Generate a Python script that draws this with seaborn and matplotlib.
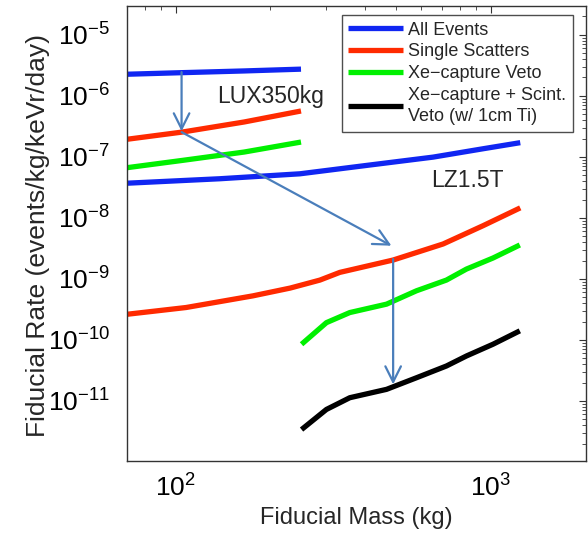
import matplotlib
matplotlib.use("Agg")
import matplotlib.pyplot as plt
import seaborn as sns
import pandas as pd
from matplotlib.lines import Line2D

# ---- data ----
lux_mass = [70, 105, 165, 250]
lux_all = [2.26e-6, 2.40e-6, 2.56e-6, 2.74e-6]
lux_ss = [1.94e-7, 2.55e-7, 3.73e-7, 5.65e-7]
lux_xe = [6.64e-8, 8.75e-8, 1.20e-7, 1.75e-7]

lz_all_mass = [70, 138, 248, 403, 656, 946, 1240]
lz_all = [3.7e-8, 4.38e-8, 5.28e-8, 7.24e-8, 9.91e-8, 1.36e-7, 1.71e-7]

lz_ss_mass = [70, 108, 176, 231, 287, 332, 490, 706, 946, 1240]
lz_ss = [2.63e-10, 3.4e-10, 5.28e-10, 7.08e-10, 9.57e-10, 1.28e-9, 2.04e-9, 3.74e-9, 7.47e-9, 1.46e-8]

lz_veto_mass = [251, 301, 357, 467, 581, 723, 837, 1016, 1236]
lz_xe = [8.5e-11, 1.92e-10, 2.81e-10, 3.86e-10, 6.39e-10, 9.57e-10, 1.45e-9, 2.2e-9, 3.6e-9]
lz_xe_scint = [3.4e-12, 7.26e-12, 1.13e-11, 1.55e-11, 2.4e-11, 3.74e-11, 5.46e-11, 8.5e-11, 1.41e-10]

labels = ["All Events", "Single Scatters", "Xe\u2212capture Veto",
          "Xe\u2212capture + Scint.\nVeto (w/ 1cm Ti)"]

# arrows: (start mass, start rate) -> (end mass, end rate)
arrow_start_mass = [104.5, 104.5, 490]
arrow_start_rate = [2.45e-6, 2.55e-7, 2.12e-9]
arrow_end_mass = [104.5, 484, 490]
arrow_end_rate = [2.62e-7, 3.5e-9, 1.87e-11]

# ---- style ----
sns.set_style("white")
plt.rcParams["font.family"] = ["Liberation Sans", "DejaVu Sans"]
plt.rcParams["mathtext.fontset"] = "custom"
plt.rcParams["mathtext.rm"] = "Liberation Sans"
plt.rcParams["mathtext.it"] = "Liberation Sans:italic"
plt.rcParams["mathtext.bf"] = "Liberation Sans:bold"

blue = "#1026f2"
red = "#ff2a00"
green = "#00f000"
black = "#000000"
colors = [blue, red, green, black]

fig = plt.figure(figsize=(5.88, 5.35), dpi=100)
ax = fig.add_axes([0.2155, 0.1389, 0.7806, 0.8504])

lw = 3.8
series = [
    (lux_mass, lux_all, blue), (lux_mass, lux_ss, red), (lux_mass, lux_xe, green),
    (lz_all_mass, lz_all, blue), (lz_ss_mass, lz_ss, red),
    (lz_veto_mass, lz_xe, green), (lz_veto_mass, lz_xe_scint, black),
]
for xs, ys, c in series:
    df = pd.DataFrame({"mass": xs, "rate": ys})
    sns.lineplot(data=df, x="mass", y="rate", color=c, lw=lw, ax=ax,
                 sort=False, estimator=None, legend=False,
                 solid_capstyle="butt")

ax.set_xscale("log")
ax.set_yscale("log")
ax.set_xlim(70, 2000)
ax.set_ylim(1.05e-12, 3e-5)

arrow_color = "#4a7ebb"
for xs, ys, xe, ye in zip(arrow_start_mass, arrow_start_rate, arrow_end_mass, arrow_end_rate):
    ax.annotate("", xy=(xe, ye), xytext=(xs, ys),
                arrowprops=dict(arrowstyle="->", color=arrow_color, lw=1.6,
                                mutation_scale=28, shrinkA=0, shrinkB=0))

ax.text(135, 9.6e-7, "LUX350kg", fontsize=16.5, va="center", ha="left")
ax.text(649, 4.1e-8, "LZ1.5T", fontsize=16.5, va="center", ha="left")

handles = [Line2D([], [], color=c, lw=lw, solid_capstyle="butt") for c in colors]
leg = ax.legend(handles, labels, loc="upper left", bbox_to_anchor=(0.468, 0.98),
                borderaxespad=0, fancybox=False, frameon=True, fontsize=13,
                handlelength=3.0, handletextpad=0.3, labelspacing=0.26,
                borderpad=0.38)
leg.get_frame().set_edgecolor("#222222")
leg.get_frame().set_linewidth(1.0)
leg.get_texts()[3].set_linespacing(1.3)

ax.set_xlabel("Fiducial Mass (kg)", fontsize=17, labelpad=4)
ax.set_ylabel("Fiducial Rate (events/kg/keVr/day)", fontsize=19)
ax.yaxis.set_label_coords(-0.168, 0.494)

for s in ax.spines.values():
    s.set_color("#333333")
    s.set_linewidth(1.0)
ax.tick_params(which="both", direction="in", top=True, right=True, colors="#333333")
ax.tick_params(which="major", length=5, width=0.8, labelsize=19, labelcolor="black")
ax.tick_params(which="minor", length=3, width=0.6)
ax.tick_params(axis="x", which="major", pad=10)
ax.tick_params(axis="y", which="major", pad=12)

fig.savefig("out.png", dpi=100)
